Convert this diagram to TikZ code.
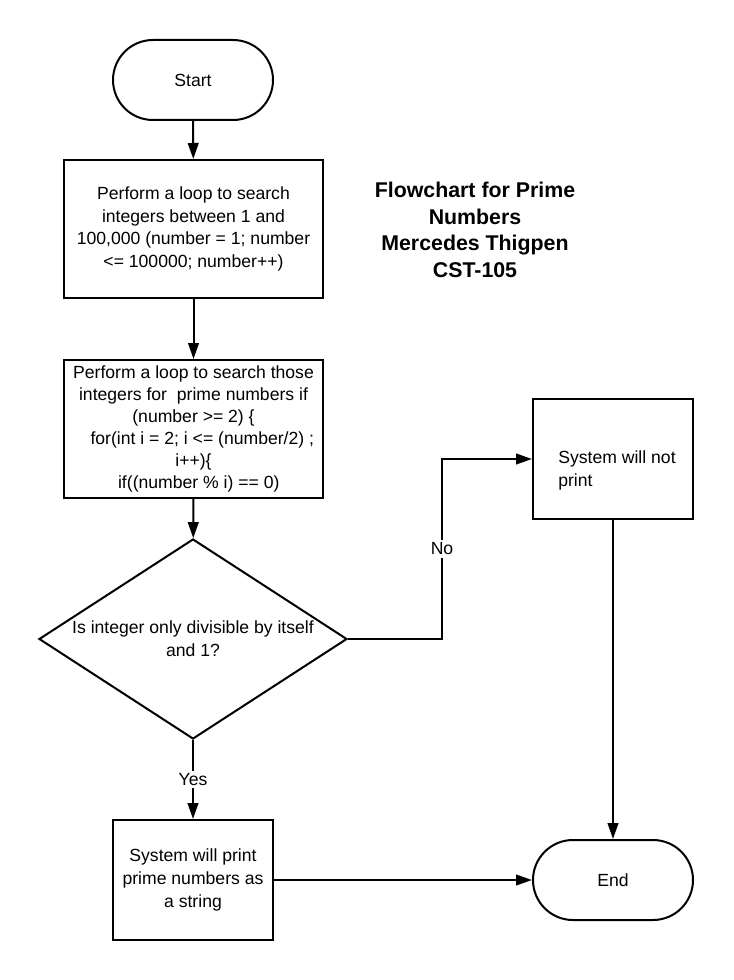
\documentclass[tikz,border=0pt]{standalone}
\usepackage{fontspec}
\setmainfont{Liberation Sans}
\usetikzlibrary{shapes.geometric,arrows.meta}

\begin{document}
\begin{tikzpicture}[x=0.75pt,y=-0.75pt,>={Triangle[length=12pt,width=8pt]},line width=1.5pt,
        font=\fontsize{13.2}{17}\selectfont,
        term/.style={draw, rectangle, rounded corners=30pt, minimum width=120pt, minimum height=60pt},
        block/.style={draw, rectangle, align=center, inner sep=2pt},
        decide/.style={draw, diamond, minimum width=231pt, minimum height=150pt, inner sep=0pt}]
        \useasboundingbox (0,0) rectangle (734,980);

        \node (start) [term] at (193,80) {Start};
        \node (loop1) [block, minimum width=194pt, minimum height=103.5pt] at (193.5,229) {Perform a loop to search\\integers between 1 and\\100,000 (number = 1; number\\<= 100000; number++)};
        \node (loop2) [block, minimum width=194pt, minimum height=103.5pt, font=\fontsize{13.2}{16.5}\selectfont] at (193.5,429) {Perform a loop to search those\\integers for\ \ prime numbers if\\(number >= 2) \{\\\hspace*{1em}for(int i = 2; i <= (number/2) ;\\i++)\{\\\hspace*{0.6em}if((number \% i) == 0)};
        \node (check) [decide, label={[align=center]center:{Is integer only divisible by itself\\and 1?}}] at (193,639) {};
        \node (noprint) [block, minimum width=120pt, minimum height=90pt, label={[align=left, xshift=3pt, yshift=-8.5pt]center:{System will not\\print}}] at (613,459) {};
        \node (result) [block, minimum width=120pt, minimum height=90pt] at (193,880) {System will print\\prime numbers as\\a string};
        \node (finish) [term] at (613,880) {End};
        \node (title) [font=\fontsize{16}{20}\selectfont\bfseries, align=center] at (475,230) {Flowchart for Prime\\Numbers\\Mercedes Thigpen\\CST-105};

        \draw[->] (start) -- (loop1);
        \draw[->] (loop1) -- (loop2);
        \draw[->] (loop2) -- (check);
        \draw[->] (check.east) -- ++(94,0) |- node[pos=0.25, fill=white, inner sep=2pt] {No} (noprint.west);
        \draw[->] (check) -- node[fill=white, inner sep=2pt] {Yes} (result);
        \draw[->] (noprint) -- (finish);
        \draw[->] (result) -- (finish);
    \end{tikzpicture}
\end{document}
